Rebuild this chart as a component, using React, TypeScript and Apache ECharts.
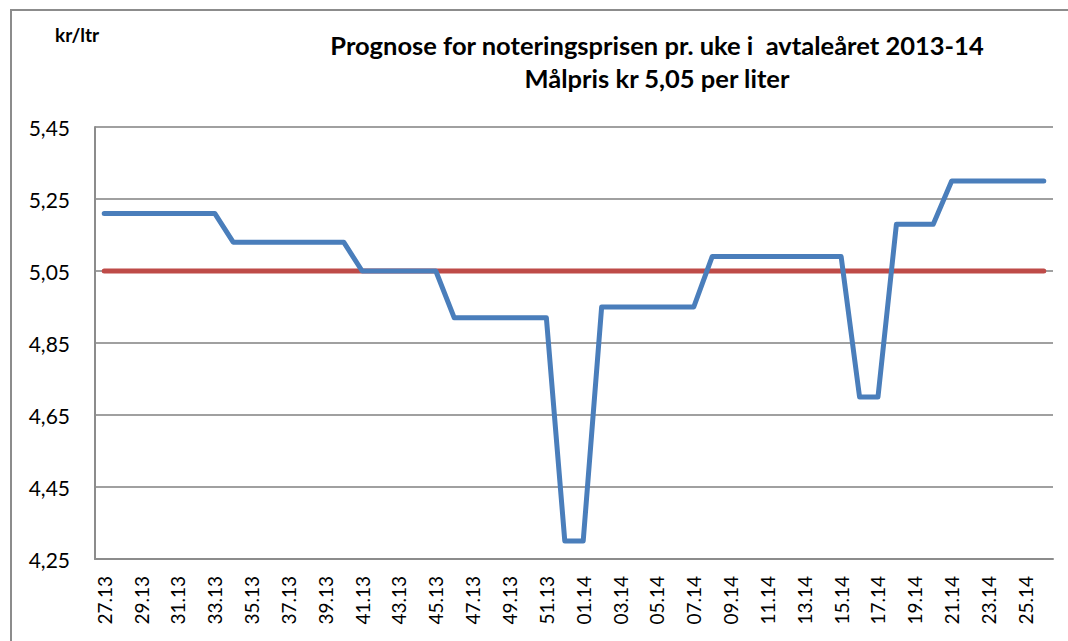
import React, { useEffect, useRef } from "react";
import * as echarts from "echarts";

const weeks: string[] = [
  "27.13", "28.13", "29.13", "30.13", "31.13", "32.13", "33.13", "34.13", "35.13", "36.13",
  "37.13", "38.13", "39.13", "40.13", "41.13", "42.13", "43.13", "44.13", "45.13", "46.13",
  "47.13", "48.13", "49.13", "50.13", "51.13", "52.13", "01.14", "02.14", "03.14", "04.14",
  "05.14", "06.14", "07.14", "08.14", "09.14", "10.14", "11.14", "12.14", "13.14", "14.14",
  "15.14", "16.14", "17.14", "18.14", "19.14", "20.14", "21.14", "22.14", "23.14", "24.14",
  "25.14", "26.14",
];

const prognose: number[] = [
  5.21, 5.21, 5.21, 5.21, 5.21, 5.21, 5.21,
  5.13, 5.13, 5.13, 5.13, 5.13, 5.13, 5.13,
  5.05, 5.05, 5.05, 5.05, 5.05,
  4.92, 4.92, 4.92, 4.92, 4.92, 4.92,
  4.30, 4.30,
  4.95, 4.95, 4.95, 4.95, 4.95, 4.95,
  5.09, 5.09, 5.09, 5.09, 5.09, 5.09, 5.09, 5.09,
  4.70, 4.70,
  5.18, 5.18, 5.18,
  5.30, 5.30, 5.30, 5.30, 5.30, 5.30,
];

const malpris: number[] = [
  5.05, 5.05, 5.05, 5.05, 5.05, 5.05, 5.05, 5.05, 5.05, 5.05,
  5.05, 5.05, 5.05, 5.05, 5.05, 5.05, 5.05, 5.05, 5.05, 5.05,
  5.05, 5.05, 5.05, 5.05, 5.05, 5.05, 5.05, 5.05, 5.05, 5.05,
  5.05, 5.05, 5.05, 5.05, 5.05, 5.05, 5.05, 5.05, 5.05, 5.05,
  5.05, 5.05, 5.05, 5.05, 5.05, 5.05, 5.05, 5.05, 5.05, 5.05,
  5.05, 5.05,
];

const yMin = 4.25;
const yMax = 5.45;
const yStep = 0.2;

const titleLines: string[] = [
  "Prognose for noteringsprisen pr. uke i  avtaleåret 2013-14",
  "Målpris kr 5,05 per liter",
];
const unitLabel = "kr/ltr";

const FONT = "Lato, 'Open Sans', sans-serif";

export default function App() {
  const ref = useRef<HTMLDivElement>(null);

  useEffect(() => {
    document.body.style.margin = "0";
    if (!ref.current) return;
    const chart = echarts.init(ref.current, undefined, { renderer: "svg" });
    chart.setOption({
      animation: false,
      backgroundColor: "#ffffff",
      textStyle: { fontFamily: FONT },
      grid: { left: 95, top: 127, width: 958, height: 432, containLabel: false },
      graphic: [
        {
          type: "rect",
          shape: { x: 11, y: 10, width: 1100, height: 700 },
          style: { fill: "none", stroke: "#8c8c8c", lineWidth: 2 },
          silent: true,
        },
        {
          type: "text",
          x: 657,
          y: 45,
          style: {
            text: titleLines[0],
            fontFamily: FONT,
            fontWeight: "bold",
            fontSize: 25.5,
            fill: "#000000",
            textAlign: "center",
            textVerticalAlign: "middle",
          },
        },
        {
          type: "text",
          x: 657,
          y: 78,
          style: {
            text: titleLines[1],
            fontFamily: FONT,
            fontWeight: "bold",
            fontSize: 25.5,
            fill: "#000000",
            textAlign: "center",
            textVerticalAlign: "middle",
          },
        },
        {
          type: "text",
          x: 55,
          y: 34,
          style: {
            text: unitLabel,
            fontFamily: FONT,
            fontWeight: "bold",
            fontSize: 19,
            fill: "#000000",
            textAlign: "left",
            textVerticalAlign: "middle",
          },
        },
      ],
      xAxis: {
        type: "category",
        data: weeks,
        boundaryGap: true,
        axisLine: { show: true, lineStyle: { color: "#8c8c8c", width: 2 } },
        axisTick: { show: false },
        axisLabel: {
          interval: 1,
          rotate: 90,
          margin: 17,
          fontSize: 19,
          color: "#000000",
          fontFamily: FONT,
        },
        splitLine: { show: false },
      },
      yAxis: {
        type: "value",
        min: yMin,
        max: yMax,
        interval: yStep,
        axisLine: { show: true, lineStyle: { color: "#8c8c8c", width: 2 } },
        axisTick: { show: false },
        axisLabel: {
          margin: 25,
          fontSize: 21,
          color: "#000000",
          fontFamily: FONT,
          formatter: (v: number) => v.toFixed(2).replace(".", ","),
        },
        splitLine: { show: true, lineStyle: { color: "#a0a0a0", width: 2 } },
      },
      series: [
        {
          name: "Prognose",
          type: "line",
          data: prognose,
          showSymbol: false,
          symbol: "none",
          lineStyle: { color: "#4a7ebb", width: 5, cap: "round", join: "round" },
          z: 3,
        },
        {
          name: "Målpris",
          type: "line",
          data: malpris,
          showSymbol: false,
          symbol: "none",
          lineStyle: { color: "#be4b48", width: 5, cap: "round", join: "round" },
          z: 2,
        },
      ],
    });
    return () => chart.dispose();
  }, []);

  return <div ref={ref} style={{ width: 1068, height: 641 }} />;
}
